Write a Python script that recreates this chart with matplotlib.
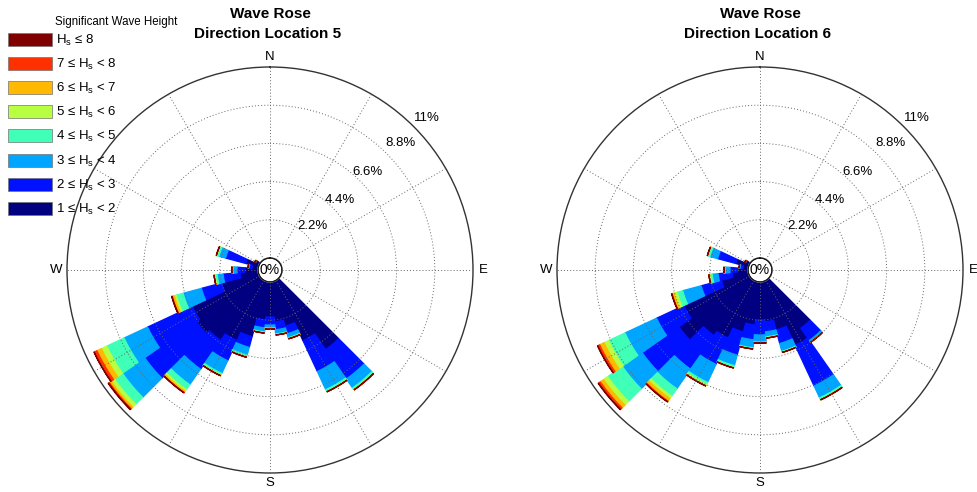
import numpy as np
import matplotlib
matplotlib.use('Agg')
import matplotlib.pyplot as plt
from matplotlib.patches import Patch

plt.rcParams['font.family'] = ['Liberation Sans', 'DejaVu Sans']
plt.rcParams['mathtext.fontset'] = 'custom'
plt.rcParams['mathtext.rm'] = 'Liberation Sans'
plt.rcParams['mathtext.it'] = 'Liberation Sans:italic'
plt.rcParams['mathtext.bf'] = 'Liberation Sans:bold'

# ---- data: direction bins (deg, coming-from, compass) ----
directions = [140, 150, 160, 170, 180, 190, 200, 210, 220, 230, 240, 250, 260, 270, 280, 290, 300]

class_labels = ['1 \u2264 H$_\\mathregular{s}$ < 2', '2 \u2264 H$_\\mathregular{s}$ < 3',
                '3 \u2264 H$_\\mathregular{s}$ < 4', '4 \u2264 H$_\\mathregular{s}$ < 5',
                '5 \u2264 H$_\\mathregular{s}$ < 6', '6 \u2264 H$_\\mathregular{s}$ < 7',
                '7 \u2264 H$_\\mathregular{s}$ < 8', 'H$_\\mathregular{s}$ \u2264 8']

ring_ticks = [2.2, 4.4, 6.6, 8.8, 11]
ring_labels = ['2.2%', '4.4%', '6.6%', '8.8%', '11%']

# Location 5 : frequency (%) per Hs class
loc5_hs1 = [4.90, 3.80, 2.65, 2.30, 2.02, 2.19, 3.28, 3.80, 4.26, 4.49, 4.26, 2.19, 1.04, 0.75, 0.35, 0.75, 0.29]
loc5_hs2 = [2.07, 1.96, 0.46, 0.46, 0.46, 0.46, 0.64, 1.27, 2.02, 3.63, 2.83, 1.21, 0.98, 0.46, 0.17, 1.21, 0.0]
loc5_hs3 = [0.63, 1.15, 0.23, 0.24, 0.17, 0.23, 0.46, 0.81, 1.09, 1.56, 1.49, 1.09, 0.34, 0.23, 0.06, 0.40, 0.0]
loc5_hs4 = [0.12, 0.12, 0.06, 0.05, 0.06, 0.06, 0.11, 0.11, 0.35, 0.57, 1.10, 0.41, 0.12, 0.06, 0.0, 0.12, 0.0]
loc5_hs5 = [0.02, 0.02, 0.01, 0.01, 0.01, 0.01, 0.02, 0.03, 0.11, 0.23, 0.34, 0.11, 0.05, 0.01, 0.0, 0.02, 0.0]
loc5_hs6 = [0.0, 0.0, 0.0, 0.0, 0.0, 0.0, 0.0, 0.01, 0.09, 0.12, 0.29, 0.12, 0.01, 0.0, 0.0, 0.01, 0.0]
loc5_hs7 = [0.0, 0.0, 0.0, 0.0, 0.0, 0.0, 0.0, 0.0, 0.02, 0.06, 0.17, 0.03, 0.0, 0.0, 0.0, 0.0, 0.0]
loc5_hs8 = [0.0, 0.0, 0.0, 0.0, 0.0, 0.0, 0.0, 0.0, 0.01, 0.03, 0.02, 0.01, 0.0, 0.0, 0.0, 0.0, 0.0]

# Location 6 : frequency (%) per Hs class
loc6_hs1 = [3.40, 4.09, 2.88, 2.30, 2.19, 2.48, 3.00, 3.63, 3.92, 5.01, 4.15, 1.61, 0.92, 0.58, 0.29, 0.75, 0.29]
loc6_hs2 = [0.86, 2.59, 0.81, 0.58, 0.86, 0.86, 1.38, 1.67, 2.36, 2.59, 1.73, 1.21, 0.81, 0.46, 0.17, 1.09, 0.0]
loc6_hs3 = [0.12, 0.75, 0.46, 0.29, 0.41, 0.46, 0.63, 1.15, 1.38, 1.39, 2.01, 1.10, 0.34, 0.28, 0.06, 0.46, 0.0]
loc6_hs4 = [0.01, 0.12, 0.06, 0.06, 0.05, 0.06, 0.12, 0.12, 0.52, 1.03, 1.04, 0.34, 0.12, 0.06, 0.0, 0.12, 0.0]
loc6_hs5 = [0.0, 0.01, 0.01, 0.01, 0.01, 0.01, 0.02, 0.08, 0.17, 0.29, 0.29, 0.18, 0.06, 0.01, 0.0, 0.02, 0.0]
loc6_hs6 = [0.0, 0.0, 0.0, 0.0, 0.0, 0.0, 0.0, 0.03, 0.18, 0.23, 0.28, 0.11, 0.01, 0.0, 0.0, 0.01, 0.0]
loc6_hs7 = [0.0, 0.0, 0.0, 0.0, 0.0, 0.0, 0.0, 0.0, 0.05, 0.12, 0.12, 0.02, 0.0, 0.0, 0.0, 0.0, 0.0]
loc6_hs8 = [0.0, 0.0, 0.0, 0.0, 0.0, 0.0, 0.0, 0.0, 0.01, 0.03, 0.02, 0.01, 0.0, 0.0, 0.0, 0.0, 0.0]

loc5 = [loc5_hs1, loc5_hs2, loc5_hs3, loc5_hs4, loc5_hs5, loc5_hs6, loc5_hs7, loc5_hs8]
loc6 = [loc6_hs1, loc6_hs2, loc6_hs3, loc6_hs4, loc6_hs5, loc6_hs6, loc6_hs7, loc6_hs8]

colors = plt.cm.jet(np.linspace(0, 1, 8))

W, H = 978, 492
fig = plt.figure(figsize=(W / 100, H / 100), dpi=100)
fig.patch.set_facecolor('white')

R = 203
hole = 11 * 12 / (R - 12)


def rose(cx, cy, data, title_lines):
    ax = fig.add_axes([(cx - R) / W, (H - cy - R) / H, 2 * R / W, 2 * R / H], projection='polar')
    ax.set_theta_zero_location('N')
    ax.set_theta_direction(-1)
    ax.set_ylim(0, 11)
    ax.set_rorigin(-hole)
    theta = np.deg2rad(directions)
    width = np.deg2rad(10)
    bottom = np.zeros(len(directions))
    for vals, col in zip(data, colors):
        vals = np.asarray(vals)
        ax.bar(theta, vals, width=width, bottom=bottom, color=col,
               edgecolor=col, linewidth=0.9, zorder=1, align='center')
        bottom = bottom + vals
    ax.set_yticks(ring_ticks[:-1])
    ax.set_yticklabels([])
    ax.set_xticks(np.deg2rad(np.arange(0, 360, 30)))
    ax.set_xticklabels(['N', '', '', 'E', '', '', 'S', '', '', 'W', '', ''], fontsize=9.5)
    ax.tick_params(axis='x', pad=-3)
    ax.grid(True, color='0.4', linestyle=(0, (1, 2.2)), linewidth=0.7)
    ax.set_axisbelow(False)
    ax.spines['polar'].set_color('0.2')
    ax.spines['polar'].set_linewidth(1.0)
    # 0% circle
    t = np.linspace(0, 2 * np.pi, 200)
    ax.fill(t, np.zeros_like(t), color='white', zorder=4)
    ax.plot(t, np.zeros_like(t), color='0.1', lw=1.0, zorder=5, clip_on=False)
    ax.text(0.5, 0.5, '0%', transform=ax.transAxes, ha='center', va='center',
            fontsize=10, zorder=6)
    # ring labels
    lab_pos = [(43.7, 2.81), (45.0, 5.01), (45.0, 7.29), (45.7, 9.78), (45.9, 11.9)]
    for (ang, rr), lab in zip(lab_pos, ring_labels):
        ax.text(np.deg2rad(ang), rr, lab, ha='center', va='center', fontsize=9.5,
                clip_on=False, zorder=6)
    fig.text(cx / W, 1 - 14 / H, title_lines[0], ha='center', va='center',
             fontsize=11, fontweight='bold')
    fig.text((cx - 2) / W, 1 - 34 / H, title_lines[1], ha='center', va='center',
             fontsize=11, fontweight='bold')
    return ax


ax1 = rose(270, 270, loc5, ['Wave Rose', 'Direction Location 5'])
ax2 = rose(760, 270, loc6, ['Wave Rose', 'Direction Location 6'])

# legend
handles = [Patch(facecolor=c, edgecolor='0.45', linewidth=0.5) for c in colors][::-1]
labels = class_labels[::-1]
fs = 9.5
fig.legend(handles, labels, loc='upper left', bbox_to_anchor=(8 / W, 1 - 33 / H),
           frameon=False, fontsize=fs, handlelength=44 / 1.389 / fs,
           handleheight=15 / 1.389 / fs, labelspacing=(24 - 15) / 1.389 / fs,
           handletextpad=4 / 1.389 / fs, borderpad=0, borderaxespad=0)
fig.text(55 / W, 1 - 22 / H, 'Significant Wave Height', ha='left', va='center', fontsize=8.3)

fig.savefig('out.png', dpi=100, facecolor='white')
